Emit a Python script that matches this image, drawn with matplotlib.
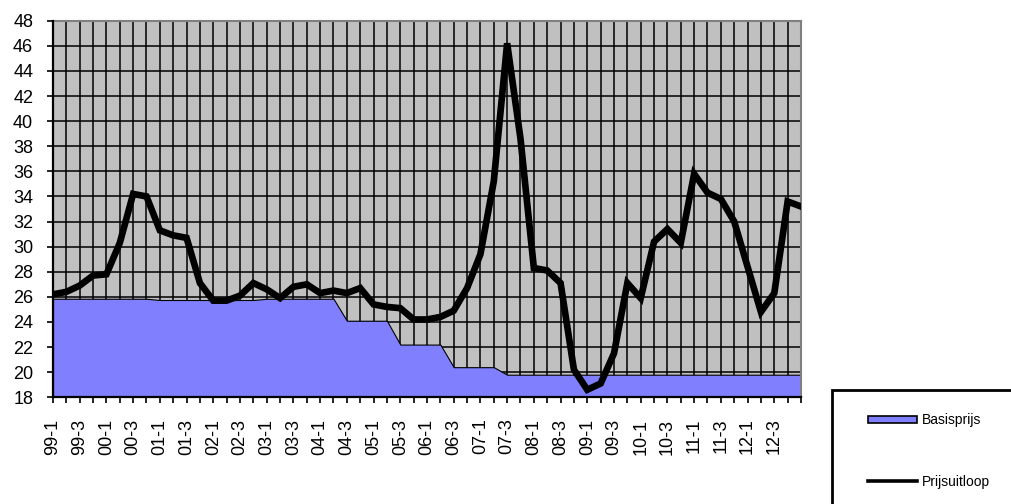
import numpy as np
import matplotlib
matplotlib.use('Agg')
import matplotlib.pyplot as plt
from matplotlib.patches import Rectangle
from matplotlib.lines import Line2D
from matplotlib import font_manager

plt.rcParams['font.family'] = ['Liberation Sans', 'DejaVu Sans']

# kwartalen 99-1 .. 13-1
jaren = ['99', '00', '01', '02', '03', '04', '05', '06', '07', '08', '09', '10', '11', '12']
kwartalen = [j + '-' + str(k) for j in jaren for k in range(1, 5)] + ['13-1']

basisprijs = [25.85, 25.85, 25.85, 25.85, 25.85, 25.85, 25.85, 25.85,
              25.75, 25.75, 25.75, 25.75, 25.75, 25.75, 25.75, 25.75,
              25.85, 25.85, 25.85, 25.85, 25.85, 25.85,
              24.1, 24.1, 24.1, 24.1,
              22.2, 22.2, 22.2, 22.2,
              20.4, 20.4, 20.4, 20.4,
              19.8, 19.8, 19.8, 19.8, 19.8, 19.8, 19.8, 19.8, 19.8, 19.8,
              19.8, 19.8, 19.8, 19.8, 19.8, 19.8, 19.8, 19.8, 19.8, 19.8,
              19.8, 19.8, 19.8]

prijsuitloop = [26.2, 26.4, 26.9, 27.7, 27.8, 30.3, 34.2, 34.0, 31.3, 30.9,
                30.7, 27.1, 25.7, 25.7, 26.1, 27.1, 26.6, 25.9, 26.8, 27.0,
                26.3, 26.5, 26.3, 26.7, 25.4, 25.2, 25.1, 24.2, 24.2, 24.4,
                24.9, 26.7, 29.4, 35.2, 46.2, 38.6, 28.3, 28.1, 27.1, 20.2,
                18.6, 19.1, 21.5, 27.1, 25.9, 30.4, 31.4, 30.3, 35.8, 34.3,
                33.8, 32.0, 28.4, 24.8, 26.3, 33.6, 33.2]

x = np.arange(len(kwartalen))

# smallere letter voor de gedraaide labels, als die er is
namen = {f.name for f in font_manager.fontManager.ttflist}
smal = 'Liberation Sans Narrow' if 'Liberation Sans Narrow' in namen else 'Liberation Sans'

fig = plt.figure(figsize=(10.12, 5.04), dpi=100)
ax = fig.add_axes([53 / 1012, 1 - 397.3 / 504, 748 / 1012, 376.6 / 504])
ax.set_facecolor('#C0C0C0')

area = ax.fill_between(x, 18, basisprijs, facecolor='#8080FF', edgecolor='black',
                       linewidth=0.8, zorder=2)
ax.plot(x, prijsuitloop, color='black', linewidth=4.8, zorder=3,
        solid_joinstyle='miter')

ax.set_xlim(0, len(kwartalen) - 1)
ax.set_ylim(18, 48)
ax.set_yticks(np.arange(18, 49, 2))
ax.set_xticks(x)
ax.set_xticklabels([k if (i % 2 == 0 and i < 56) else '' for i, k in enumerate(kwartalen)],
                   rotation=90, family=smal, fontsize=13)
ax.tick_params(axis='both', direction='out', length=4.3, width=1.2)
ax.tick_params(axis='y', labelsize=13, pad=10)
ax.tick_params(axis='x', pad=11)
ax.grid(True, color='black', linewidth=1.1)
ax.set_axisbelow(True)

for s in ['left', 'bottom']:
    ax.spines[s].set_color('black')
    ax.spines[s].set_linewidth(1.6)
    ax.spines[s].set_zorder(4)
for s in ['top', 'right']:
    ax.spines[s].set_color('#808080')
    ax.spines[s].set_linewidth(1.5)

# legenda met kader dat buiten de figuur loopt
fig.patches.append(Rectangle((832 / 1012, -0.2), 0.3, 0.2 + 1 - 390 / 504,
                             transform=fig.transFigure, facecolor='white',
                             edgecolor='black', linewidth=2, zorder=0))
h_basis = Rectangle((0, 0), 1, 1, facecolor='#8080FF', edgecolor='black', linewidth=1.2)
h_lijn = Line2D([], [], color='black', linewidth=2.6)
fig.legend([h_basis, h_lijn], ['Basisprijs', 'Prijsuitloop'], loc='center left',
           bbox_to_anchor=(868 / 1012, 1 - 451 / 504), frameon=False,
           fontsize=10, handlelength=3.5, handleheight=0.5, handletextpad=0.4,
           labelspacing=3.4, borderpad=0, borderaxespad=0)

fig.savefig('out.png', dpi=100)
